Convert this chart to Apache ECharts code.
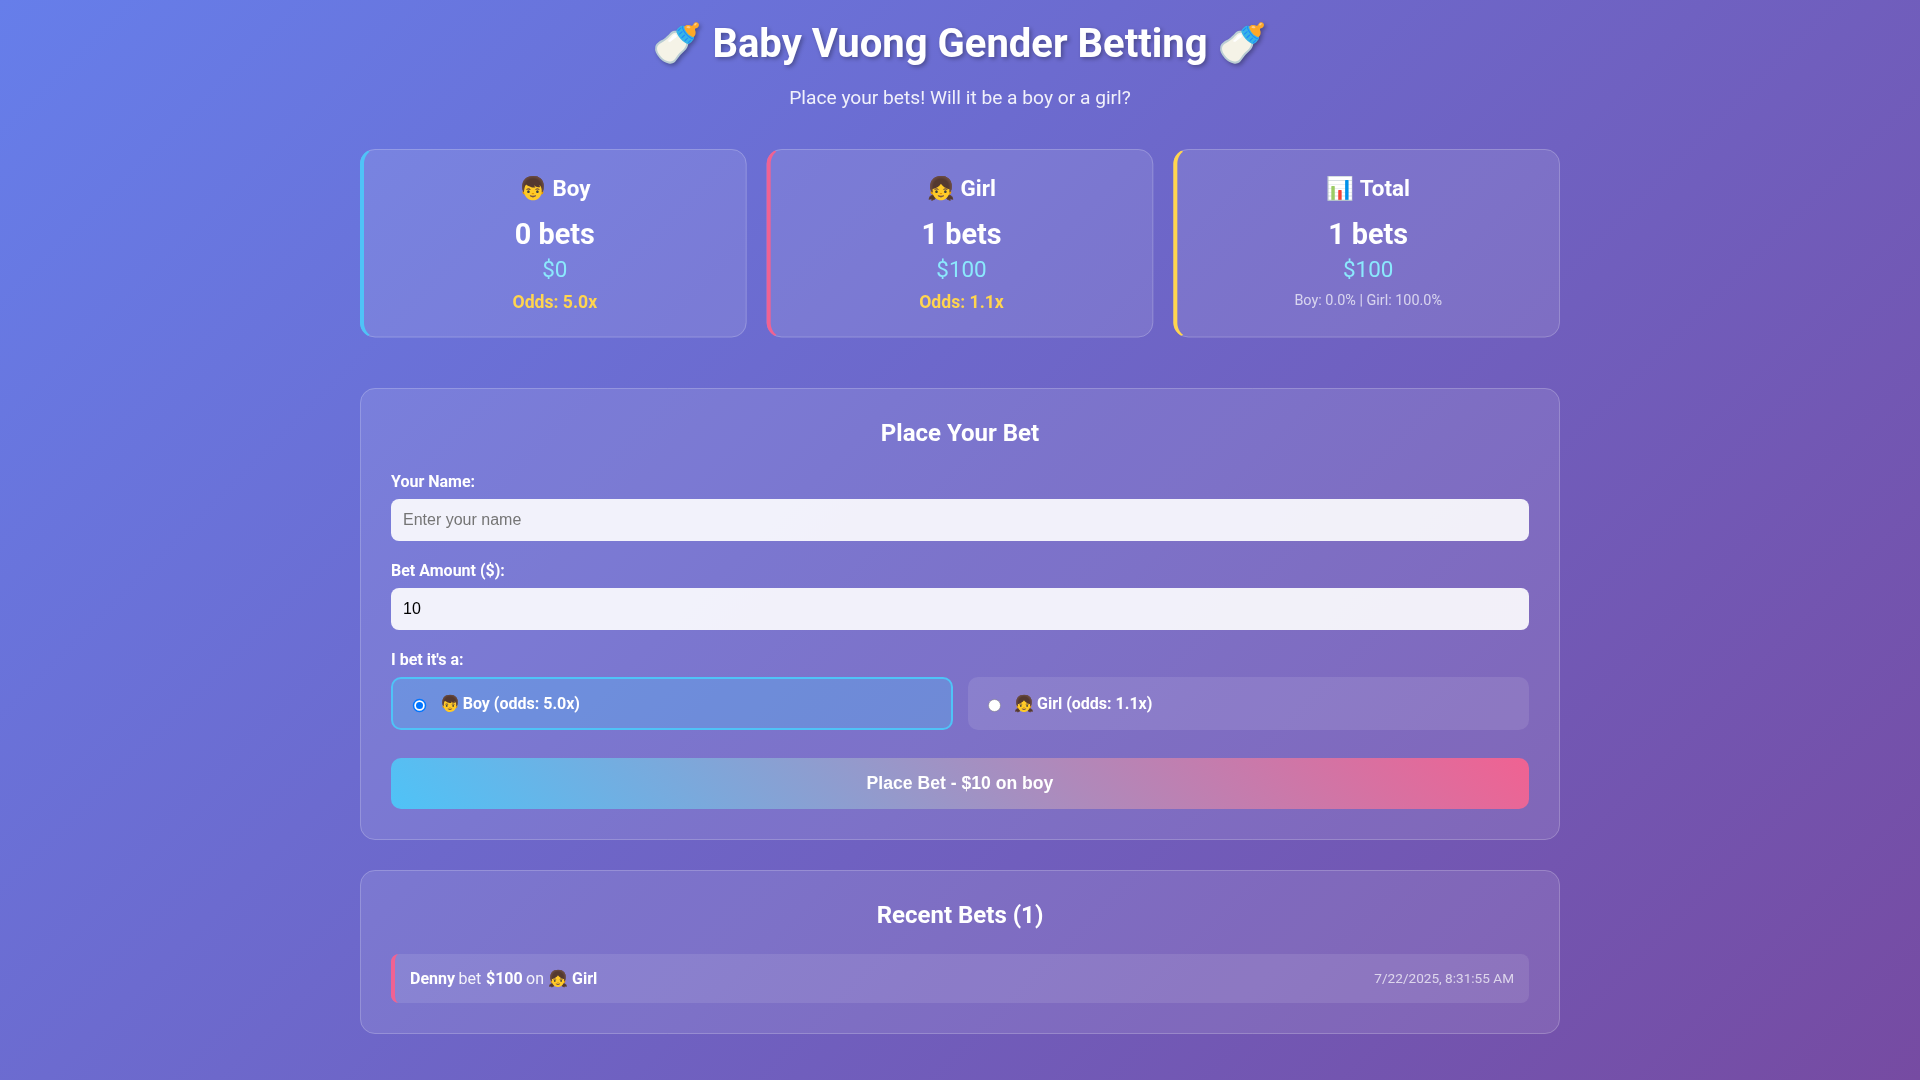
<!DOCTYPE html>
<html>
<head>
<meta charset="utf-8">
<title>Baby Vuong Gender Betting</title>
<style>
  html, body { margin: 0; padding: 0; background: #6b5fc0; }
  #main { width: 1920px; height: 1080px; }
</style>
<script src="https://cdn.jsdelivr.net/npm/echarts@6/dist/echarts.min.js"></script>
</head>
<body>
<div id="main"></div>
<script>
// the numbers shown on the page
var statTitles = ['👦 Boy', '👧 Girl', '📊 Total'];
var betCounts = [0, 1, 1];
var betAmounts = [0, 100, 100];
var oddsValues = [5.0, 1.1];
var sharePercents = [0.0, 100.0];
var genderNames = ['Boy', 'Girl'];
var genderIcons = ['👦', '👧'];

var pageTitle = '🍼 Baby Vuong Gender Betting 🍼';
var pageSubtitle = 'Place your bets! Will it be a boy or a girl?';
var formTitle = 'Place Your Bet';
var formLabels = ['Your Name:', 'Bet Amount ($):', "I bet it's a:"];
var namePlaceholder = 'Enter your name';
var betAmountInput = 10;
var selectedGender = 'boy';
var recentBetter = 'Denny';
var recentAmount = 100;
var recentGender = 1;
var recentTime = '7/22/2025, 8:31:55 AM';

var chart = echarts.init(document.getElementById('main'));
var els = [];

var ROBOTO = 'Roboto, "Noto Color Emoji", sans-serif';
var ARIAL = '"Liberation Sans", Arial, sans-serif';
var BLUE = '#4fc3f7', PINK = '#f06292', YELLOW = '#ffd54f', CYAN = '#8be9fd';

function rect(x, y, w, h, r, fill, stroke, lw) {
    els.push({
        type: 'rect',
        shape: { x: x, y: y, width: w, height: h, r: r },
        style: { fill: fill || 'transparent', stroke: stroke || null, lineWidth: lw || 0 }
    });
}

function text(str, x, y, font, fill, align, extra) {
    els.push({
        type: 'text',
        x: x,
        y: y,
        style: Object.assign({
            text: str,
            font: font,
            fill: fill,
            align: align || 'left',
            verticalAlign: 'middle'
        }, extra || {})
    });
}

// glass card with 1px border
function glass(x, y, w, h, r) {
    rect(x, y, w, h, r, 'rgba(255,255,255,0.1)');
    rect(x + 0.5, y + 0.5, w - 1, h - 1, r - 0.5, null, 'rgba(255,255,255,0.2)', 1);
}

// css style left border, thick on the left and tapering into the corners
function leftBorder(x, y, h, R, bw, top, maxDeg, color) {
    var pts = [];
    var steps = 14;
    var rad = Math.PI / 180;
    function add(r, ry, deg, bottom) {
        var px = R - r * Math.cos(deg * rad);
        var py = R - ry * Math.sin(deg * rad);
        pts.push([x + px, y + (bottom ? h - py : py)]);
    }
    var i;
    for (i = steps; i >= 0; i--) add(R, R, maxDeg * i / steps, false);
    for (i = 0; i <= steps; i++) add(R, R, maxDeg * i / steps, true);
    for (i = steps; i >= 0; i--) add(R - bw, R - top, maxDeg * i / steps, true);
    for (i = 0; i <= steps; i++) add(R - bw, R - top, maxDeg * i / steps, false);
    els.push({ type: 'polygon', shape: { points: pts }, style: { fill: color } });
}

// page background, 135deg css gradient
rect(0, 0, 1920, 1080, 0, new echarts.graphic.LinearGradient(210, -210, 1710, 1290, [
    { offset: 0, color: '#667eea' },
    { offset: 1, color: '#764ba2' }
], true));

// header
var titleShadow = { textShadowColor: 'rgba(0,0,0,0.3)', textShadowBlur: 4, textShadowOffsetX: 2, textShadowOffsetY: 2 };
text(pageTitle, 960, 47, 'bold 40px ' + ROBOTO, '#fff', 'center', titleShadow);
text(pageSubtitle, 960, 99, '19.2px ' + ROBOTO, 'rgba(255,255,255,0.9)', 'center');

// stat cards
var cardX = [360, 766.67, 1173.33];
var cardColors = [BLUE, PINK, YELLOW];
for (let i = 0; i < 3; i++) {
    let cx = cardX[i] + 194.83;
    glass(cardX[i], 149, 386.67, 188.5, 15);
    leftBorder(cardX[i], 149, 188.5, 15, 4, 1, 62, cardColors[i]);
    text(statTitles[i], cx, 190.5, 'bold 22.4px ' + ROBOTO, '#fff', 'center');
    text(betCounts[i] + ' bets', cx, 237, 'bold 28.8px ' + ROBOTO, '#fff', 'center');
    text('$' + betAmounts[i], cx, 271.5, '22.4px ' + ROBOTO, CYAN, 'center');
    if (i < 2) {
        text('Odds: ' + oddsValues[i].toFixed(1) + 'x', cx, 303.5, 'bold 17.6px ' + ROBOTO, YELLOW, 'center');
    } else {
        text('Boy: ' + sharePercents[0].toFixed(1) + '% | Girl: ' + sharePercents[1].toFixed(1) + '%',
            cx, 301, '14.4px ' + ROBOTO, 'rgba(255,255,255,0.7)', 'center');
    }
}

// bet form
glass(360, 388, 1200, 452, 15);
text(formTitle, 960, 435, 'bold 24px ' + ROBOTO, '#fff', 'center');
text(formLabels[0], 391, 483, 'bold 16px ' + ROBOTO, '#fff');
rect(391, 499, 1138, 42, 8, 'rgba(255,255,255,0.9)');
text(namePlaceholder, 403, 521, '16px ' + ARIAL, '#757575');
text(formLabels[1], 391, 572, 'bold 16px ' + ROBOTO, '#fff');
rect(391, 588, 1138, 42, 8, 'rgba(255,255,255,0.9)');
text(String(betAmountInput), 403, 610, '16px ' + ARIAL, '#000');
text(formLabels[2], 391, 661, 'bold 16px ' + ROBOTO, '#fff');

// gender options
rect(392, 678, 560, 51, 9, 'rgba(79,195,247,0.3)', BLUE, 2);
rect(968, 677, 561, 53, 10, 'rgba(255,255,255,0.1)');
text(genderIcons[0], 440, 704.5, 'bold 16px ' + ROBOTO, '#fff');
text(genderNames[0] + ' (odds: ' + oddsValues[0].toFixed(1) + 'x)', 462.7, 704.5, 'bold 16px ' + ROBOTO, '#fff');
text(genderIcons[1], 1014, 704.5, 'bold 16px ' + ROBOTO, '#fff');
text(genderNames[1] + ' (odds: ' + oddsValues[1].toFixed(1) + 'x)', 1037, 704.5, 'bold 16px ' + ROBOTO, '#fff');
els.push({ type: 'circle', shape: { cx: 419.5, cy: 705.5, r: 6 }, style: { fill: '#fff', stroke: '#0075ff', lineWidth: 1.5 } });
els.push({ type: 'circle', shape: { cx: 419.5, cy: 705.5, r: 3.5 }, style: { fill: '#0075ff' } });
els.push({ type: 'circle', shape: { cx: 994.5, cy: 705.5, r: 6 }, style: { fill: '#fff', stroke: '#767676', lineWidth: 0.5 } });

// submit button, 45deg css gradient
rect(391, 758, 1138, 51, 10, new echarts.graphic.LinearGradient(662.75, 1080.75, 1257.25, 486.25, [
    { offset: 0, color: BLUE },
    { offset: 1, color: PINK }
], true));
text('Place Bet - $' + betAmountInput + ' on ' + selectedGender, 960, 784, 'bold 17.6px ' + ARIAL, '#fff', 'center');

// recent bets
glass(360, 870, 1200, 164, 15);
text('Recent Bets (1)', 960, 916.5, 'bold 24px ' + ROBOTO, '#fff', 'center');
rect(391, 954, 1138, 49, 8, 'rgba(255,255,255,0.1)');
leftBorder(391, 954, 49, 8, 4, 0, 90, PINK);
var rowY = 979.5;
text(recentBetter, 410, rowY, 'bold 16px ' + ROBOTO, '#fff');
text('bet', 458.6, rowY, '16px ' + ROBOTO, 'rgba(255,255,255,0.9)');
text('$' + recentAmount, 486, rowY, 'bold 16px ' + ROBOTO, '#fff');
text('on', 526, rowY, '16px ' + ROBOTO, 'rgba(255,255,255,0.9)');
text(genderIcons[recentGender], 548.5, rowY, 'bold 16px ' + ROBOTO, '#fff');
text(genderNames[recentGender], 572, rowY, 'bold 16px ' + ROBOTO, '#fff');
text(recentTime, 1514, 980, '13.6px ' + ROBOTO, 'rgba(255,255,255,0.7)', 'right');

chart.setOption({
    animation: false,
    graphic: { elements: els }
});
</script>
</body>
</html>
